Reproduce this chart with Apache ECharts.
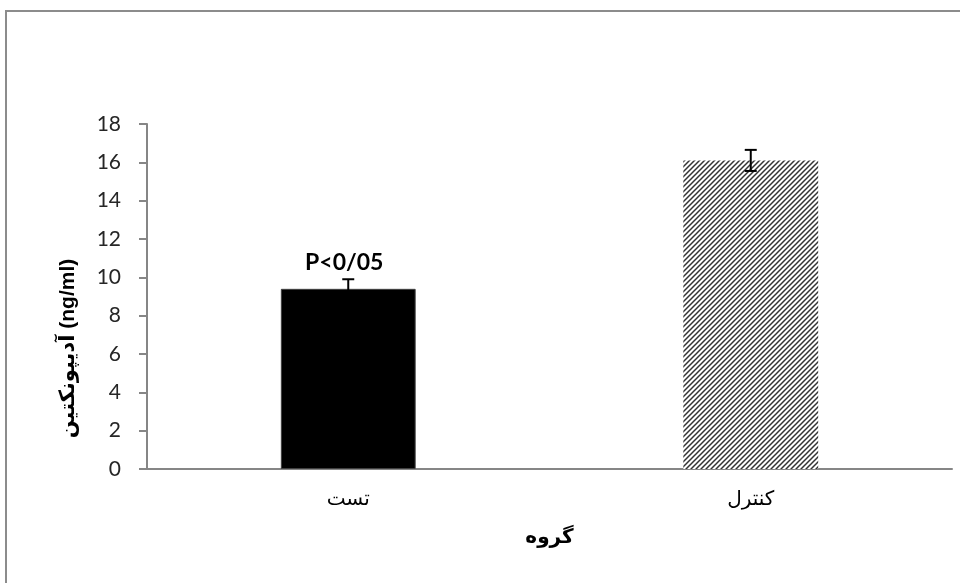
<!DOCTYPE html>
<html>
<head>
<meta charset="utf-8">
<script src="https://cdn.jsdelivr.net/npm/echarts@6/dist/echarts.min.js"></script>
<style>
  html, body { margin: 0; padding: 0; background: #fff; }
  #chart { width: 960px; height: 583px; }
</style>
</head>
<body>
<div id="chart"></div>
<script>
const categories = ['تست', 'کنترل'];
const means = [9.4, 16.1];
const errors = [0.5, 0.55];
const yTicks = { min: 0, max: 18, interval: 2 };
const pLabel = 'P<0/05';

// diagonal hatch for the control bar
function hatchPattern() {
    const c = document.createElement('canvas');
    c.width = 5;
    c.height = 5;
    const ctx = c.getContext('2d');
    ctx.fillStyle = '#fff';
    ctx.fillRect(0, 0, 5, 5);
    ctx.strokeStyle = '#333';
    ctx.lineWidth = 1.5;
    ctx.beginPath();
    ctx.moveTo(0, 5); ctx.lineTo(5, 0);
    ctx.moveTo(-1, 1); ctx.lineTo(1, -1);
    ctx.moveTo(4, 6); ctx.lineTo(6, 4);
    ctx.stroke();
    return c;
}

const chart = echarts.init(document.getElementById('chart'));

const errData = means.map((m, i) => [i, m - errors[i], m + errors[i]]);

chart.setOption({
    animation: false,
    backgroundColor: '#fff',
    graphic: [{
        type: 'rect',
        shape: { x: 6, y: 11, width: 980, height: 600 },
        style: { fill: 'none', stroke: '#8c8c8c', lineWidth: 2 },
        z: -1
    }],
    grid: { left: 147, right: 8, top: 124, bottom: 114 },
    xAxis: {
        type: 'category',
        data: categories,
        axisLine: { lineStyle: { color: '#868686', width: 2 } },
        axisTick: { show: false },
        axisLabel: { fontSize: 20, color: '#000', margin: 20, fontFamily: 'Arial, DejaVu Sans' },
        name: 'گروه',
        nameLocation: 'middle',
        nameGap: 58,
        nameTextStyle: { fontSize: 20, fontWeight: 'bold', color: '#000', fontFamily: 'Arial, DejaVu Sans' }
    },
    yAxis: {
        type: 'value',
        min: yTicks.min,
        max: yTicks.max,
        interval: yTicks.interval,
        splitLine: { show: false },
        axisLine: { show: true, lineStyle: { color: '#868686', width: 2 } },
        axisTick: { show: true, inside: false, length: 8, lineStyle: { color: '#868686', width: 2 } },
        axisLabel: { fontSize: 21, color: '#262626', margin: 26, fontFamily: 'Lato, Open Sans, sans-serif' },
        name: 'آدیپونکتین (ng/ml)',
        nameLocation: 'middle',
        nameRotate: 90,
        nameGap: 68,
        nameTextStyle: {
            fontSize: 21, fontWeight: 'bold', color: '#000', fontFamily: 'Arial, DejaVu Sans',
            padding: [0, 104, 0, 0]
        }
    },
    series: [{
        type: 'bar',
        barWidth: '33.5%',
        data: [
            {
                value: means[0],
                itemStyle: { color: '#000', borderColor: '#404040', borderWidth: 1 },
                label: {
                    show: true,
                    position: 'top',
                    distance: 15,
                    offset: [-4, 0],
                    formatter: pLabel,
                    fontSize: 23,
                    fontWeight: 'bold',
                    color: '#000',
                    fontFamily: 'Lato, Open Sans, sans-serif'
                }
            },
            {
                value: means[1],
                itemStyle: { color: { image: hatchPattern(), repeat: 'repeat' } }
            }
        ]
    }, {
        type: 'custom',
        z: 10,
        data: errData,
        renderItem: function (params, api) {
            const x = api.value(0);
            const lo = api.coord([x, api.value(1)]);
            const hi = api.coord([x, api.value(2)]);
            const half = 6;
            const style = { stroke: '#000', lineWidth: 2 };
            return {
                type: 'group',
                children: [
                    { type: 'line', shape: { x1: lo[0], y1: lo[1], x2: hi[0], y2: hi[1] }, style: style },
                    { type: 'line', shape: { x1: hi[0] - half, y1: hi[1], x2: hi[0] + half, y2: hi[1] }, style: style },
                    { type: 'line', shape: { x1: lo[0] - half, y1: lo[1], x2: lo[0] + half, y2: lo[1] }, style: style }
                ]
            };
        }
    }]
});
</script>
</body>
</html>
